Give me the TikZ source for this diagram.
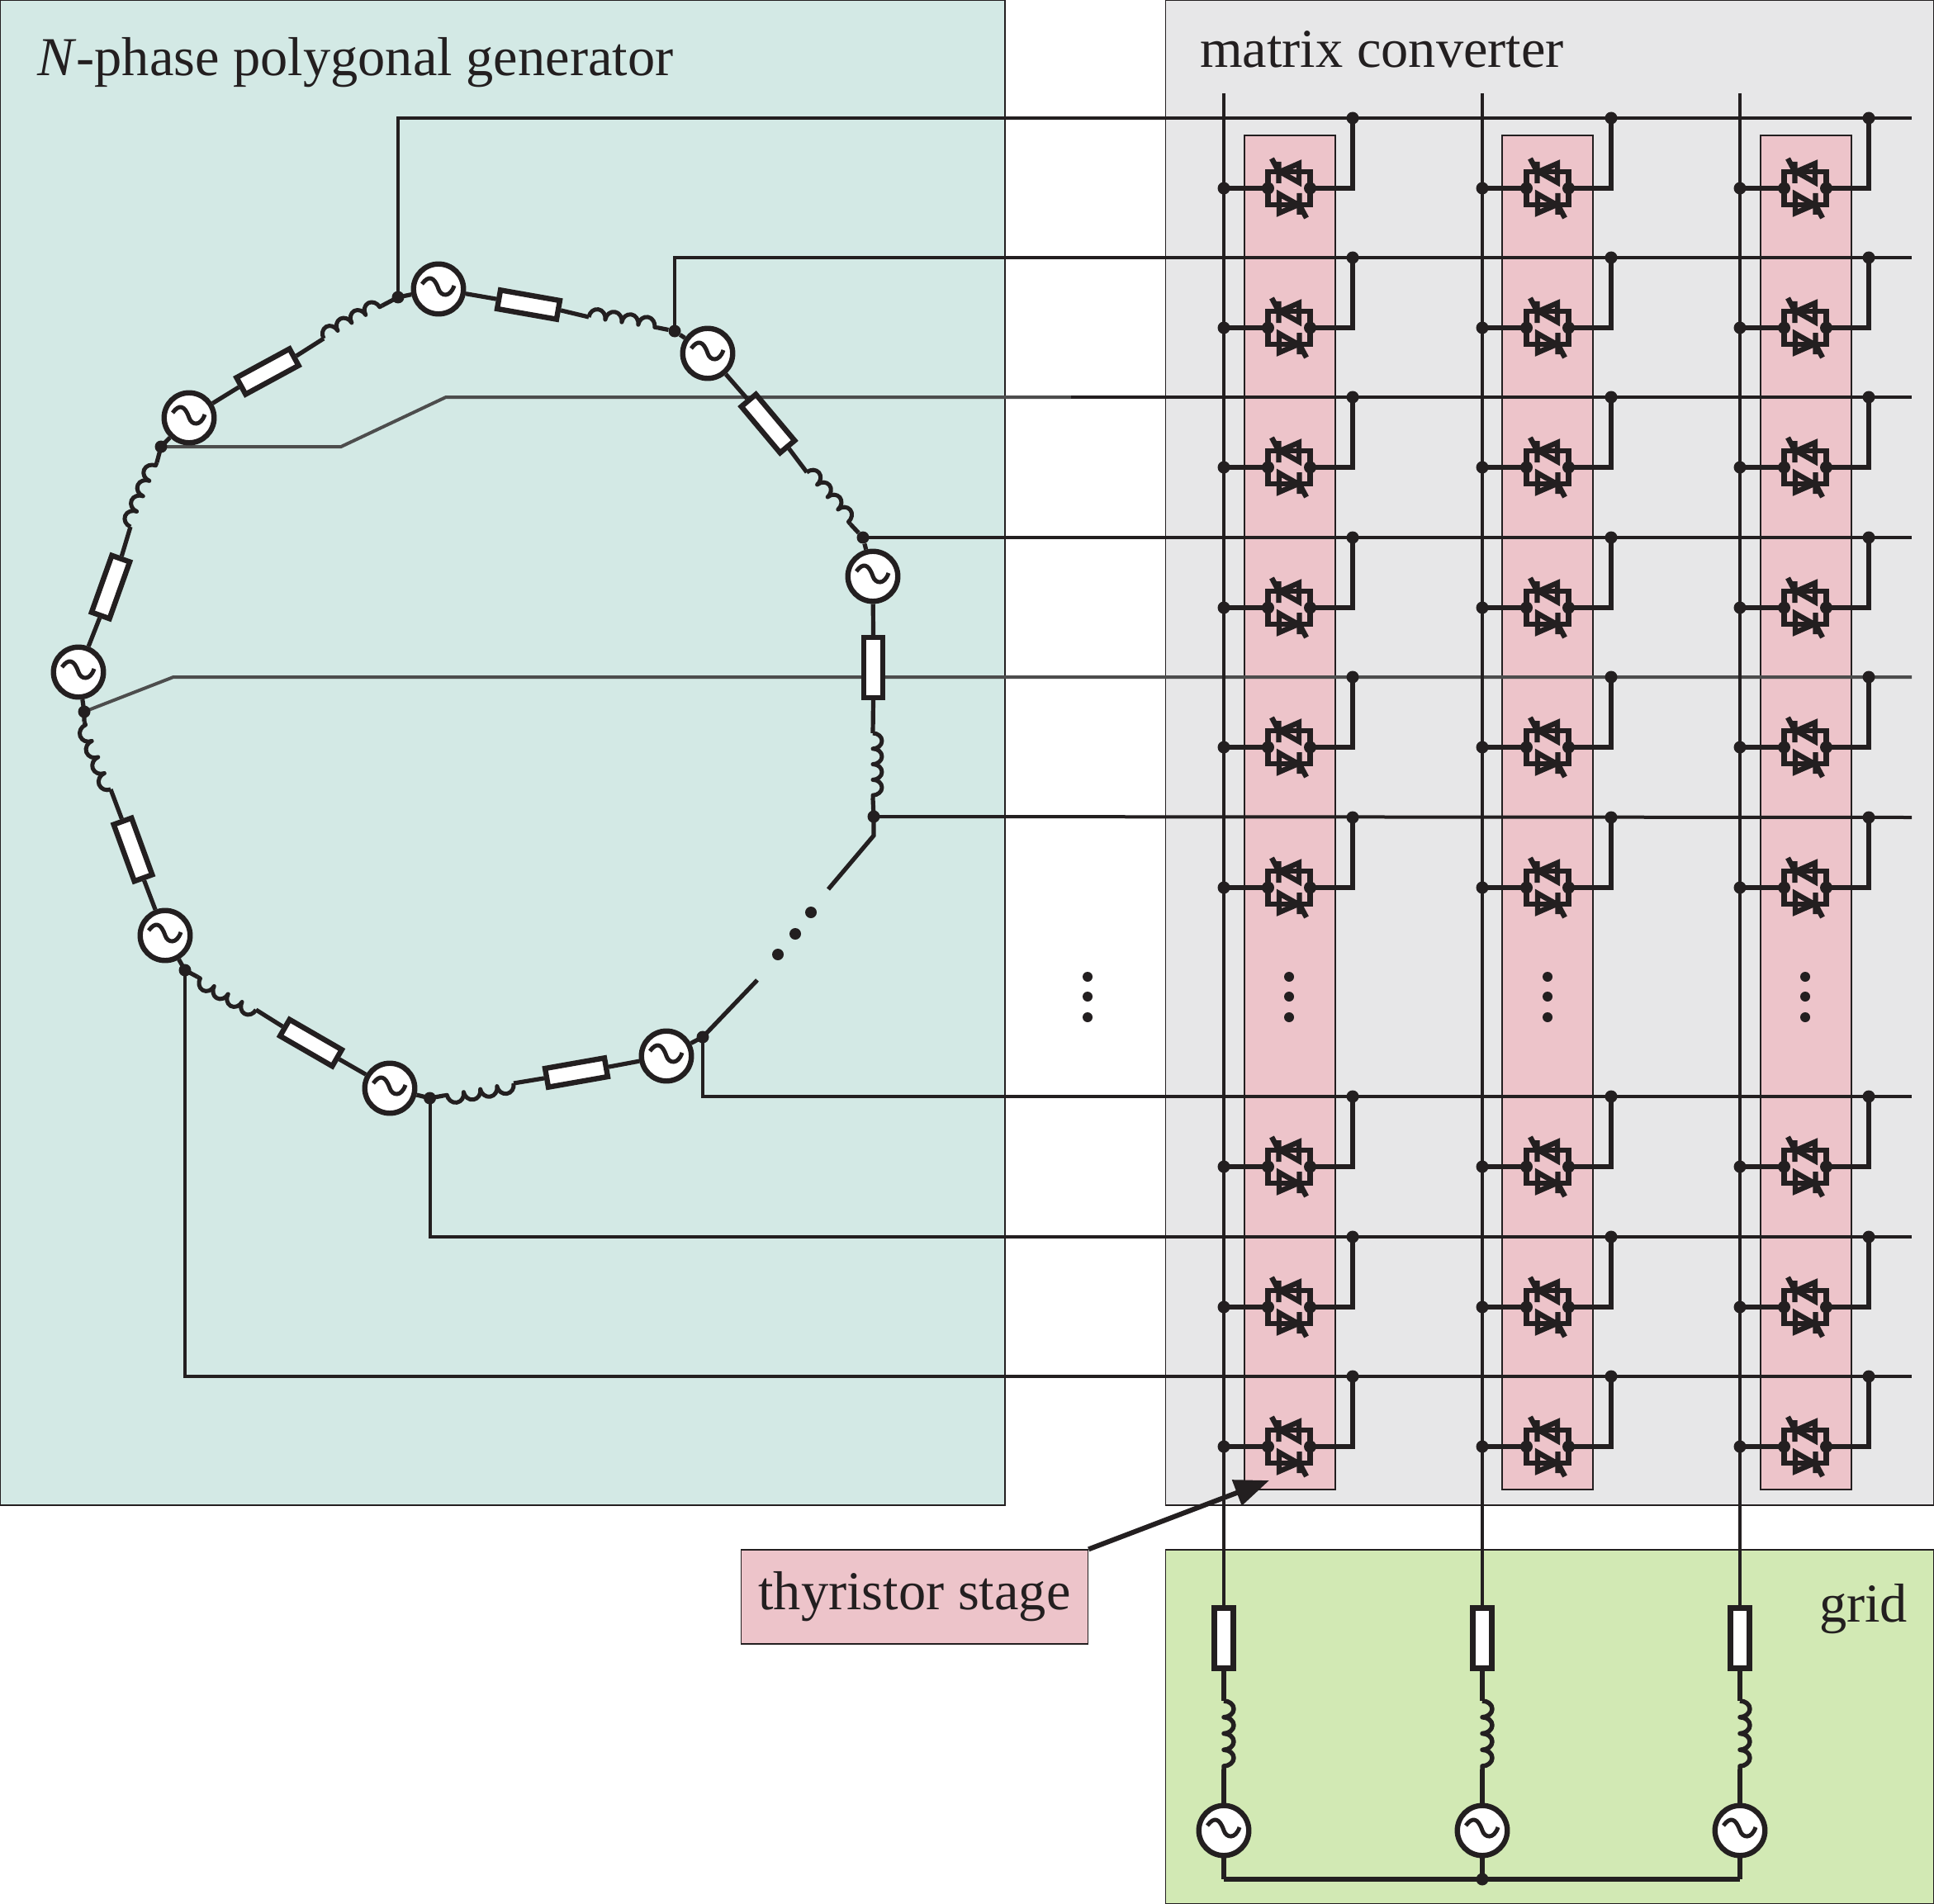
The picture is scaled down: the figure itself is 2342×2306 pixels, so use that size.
\documentclass[tikz,border=0pt]{standalone}
\usepackage{fontspec}
\setmainfont{Liberation Serif}
\usetikzlibrary{arrows.meta,decorations.pathmorphing}
\pgfdeclarelayer{back}
\pgfsetlayers{back,main}
\definecolor{ink}{HTML}{231F20}
\definecolor{grayline}{HTML}{4D4D4D}
\definecolor{genfill}{HTML}{D3E9E5}
\definecolor{convfill}{HTML}{E7E7E8}
\definecolor{stagefill}{HTML}{EDC4CA}
\definecolor{gridfill}{HTML}{D2E9B4}
\tikzset{
  x=1pt,y=-1pt,
  panel/.style={draw=ink,line width=1.3pt},
  wire/.style={draw=ink,line width=5.2pt,line join=miter},
  gwire/.style={draw=ink,line width=6.4pt,line join=miter},
  feeder/.style={draw=ink,line width=4pt,line join=miter},
  gfeeder/.style={draw=grayline,line width=4pt,line join=miter},
  coilpath/.style={draw=ink,line width=5pt,line join=round,decorate,
    decoration={bumps,segment length=#1,amplitude=11pt}},
  gcoil/.style={draw=ink,line width=5.5pt,line join=round,decorate,
    decoration={bumps,segment length=#1,amplitude=12pt}},
  jdot/.style={circle,fill=ink,inner sep=0pt,minimum size=15pt},
  edot/.style={circle,fill=ink,inner sep=0pt,minimum size=12pt},
  ringdot/.style={circle,fill=ink,inner sep=0pt,minimum size=15pt},
  res/.style={rectangle,draw=ink,fill=white,line width=6.4pt,inner sep=0pt,
    minimum width=73pt,minimum height=23pt,rotate=#1},
  src/.style={circle,draw=ink,fill=white,line width=6.4pt,inner sep=0pt,minimum size=60.5pt,
    path picture={\draw[ink,line width=5pt,shift={(path picture bounding box.center)}]
      (-20,-6) .. controls (-12,-17) and (-5,-15) .. (0,0)
      .. controls (3,9) and (14,11) .. (19,-4);}},
  lab/.style={anchor=base west,text=ink,font=\fontsize{66.4pt}{70pt}\selectfont,inner sep=0pt},
  thyristor/.pic={
    \coordinate (-L) at (-25.5,0);
    \coordinate (-R) at (25.5,0);
    \node[jdot] (-LD) at (-25.5,0) {};
    \node[jdot] (-RD) at (25.5,0) {};
    \draw[ink,line width=6.4pt,line join=miter]
      (-25.5,0) -- (-25.5,-20) -- (25.5,-20) -- (25.5,0)
      (-25.5,0) -- (-25.5,20) -- (25.5,20) -- (25.5,0);
    \draw[ink,line width=6.4pt,line join=miter]
      (12,-30) -- (12,-7) -- (-11,-20) -- cycle
      (-12.5,-32) -- (-12.5,-6)
      (-12.5,-20) -- (-21,-36);
    \draw[ink,line width=6.4pt,line join=miter]
      (-12,30) -- (-12,7) -- (11,20) -- cycle
      (12.5,32) -- (12.5,6)
      (12.5,20) -- (21,36);
  }
}
\begin{document}
\begin{tikzpicture}
\useasboundingbox (0,0) rectangle (2342,2306);

% ---- generator sources
\node[src] (S1) at (531,350) {};
\node[src] (S2) at (857,428) {};
\node[src] (S3) at (1057,698) {};
\node[src] (S4) at (229,506) {};
\node[src] (S5) at (95,814) {};
\node[src] (S6) at (200,1133) {};
\node[src] (S7) at (472,1318) {};
\node[src] (S8) at (807,1279) {};
% ---- generator resistors
\node[res=-10] (Ra) at (640,369) {};
\node[res=-50] (Rb) at (930,513) {};
\node[res=-90] (Rc) at (1057.5,808.5) {};
\node[res=28.5] (Rd) at (324,450) {};
\node[res=70.4] (Re) at (134,711) {};
\node[res=-70] (Rf) at (161,1029) {};
\node[res=-30] (Rg) at (376.5,1263) {};
\node[res=10] (Rh) at (698,1299) {};
% ---- junctions
\node[ringdot] (D1) at (482,360) {};
\node[ringdot] (D2) at (817,401) {};
\node[ringdot] (D3) at (1045,651) {};
\node[ringdot] (D4) at (195,541) {};
\node[ringdot] (D5) at (102,862) {};
\node[ringdot] (D6) at (224,1175) {};
\node[ringdot] (D7) at (520.5,1330) {};
\node[ringdot] (D8) at (851,1256) {};
\node[ringdot] (D9) at (1058,989) {};
% ---- inductor ends
\coordinate (Ia1) at (392,410); \coordinate (Ia2) at (463,370);
\coordinate (Ib1) at (713,384); \coordinate (Ib2) at (797,397);
\coordinate (Ic1) at (977,572); \coordinate (Ic2) at (1030,635);
\coordinate (Id1) at (1057,888); \coordinate (Id2) at (1057,967);
\coordinate (Ie1) at (158,638); \coordinate (Ie2) at (190,560);
\coordinate (If1) at (134,956); \coordinate (If2) at (102,874);
\coordinate (Ig1) at (310,1223); \coordinate (Ig2) at (239,1183);
\coordinate (Ih1) at (622,1312); \coordinate (Ih2) at (537,1327);
% ---- open ring ends
\coordinate (K1) at (1058,1012);
\coordinate (K2) at (1003,1077);
\coordinate (K3) at (917,1187);
\node[edot,minimum size=14pt] (G1) at (982,1105) {};
\node[edot,minimum size=14pt] (G2) at (963,1131) {};
\node[edot,minimum size=14pt] (G3) at (942,1156) {};
% ---- grid elements
\foreach \k/\gx in {1/1482,2/1795,3/2107}{
  \node[res=-90] (GR\k) at (\gx,1984) {};
  \node[src] (GS\k) at (\gx,2217) {};
  \coordinate (GI\k a) at (\gx,2060);
  \coordinate (GI\k b) at (\gx,2143);
  \coordinate (GB\k) at (\gx,113);
  \coordinate (GN\k) at (\gx,2276);
}
\node[jdot] (GJ) at (1795,2276) {};
% ---- feeder ends
\foreach \yl in {143,312,481,651,820,990,1328,1498,1667}{
  \coordinate (E\yl) at (2315,\yl);
}
\coordinate (Fa) at (540,481);
\coordinate (Fb) at (413,541);
\coordinate (Fc) at (210,820);
\coordinate (Fd) at (1297,481);
% ---- label box and arrow tip
\node[panel,fill=stagefill,rectangle,minimum width=420pt,minimum height=114pt,inner sep=0pt,
      text=ink,font=\fontsize{66.4pt}{70pt}\selectfont] (TS) at (1107.5,1934) {thyristor stage};
\coordinate (Tip) at (1537,1793);

\begin{pgfonlayer}{back}
  \draw[panel,fill=genfill] (0,0) rectangle (1217,1823);
  \draw[panel,fill=convfill] (1411.5,0) rectangle (2342,1823);
  \draw[panel,fill=gridfill] (1411.5,1877) rectangle (2342,2306);
  \foreach \px in {1507,1819,2132}{
    \draw[panel,fill=stagefill] (\px,164) rectangle ({\px+110},1804);
  }
  % feeders
  \draw[feeder] (D1.center) |- (E143);
  \draw[feeder] (D2.center) |- (E312);
  \draw[gfeeder] (D4.center) -- (Fb) -- (Fa) -- (Fd);
  \draw[feeder] (Fd) -- (E481);
  \draw[feeder] (D3.center) -- (E651);
  \draw[gfeeder] (D5.center) -- (Fc) -- (E820);
  \draw[feeder] (D9.center) -- (E990);
  \draw[feeder] (D8.center) |- (E1328);
  \draw[feeder] (D7.center) |- (E1498);
  \draw[feeder] (D6.center) |- (E1667);
  % buses
  \foreach \k in {1,2,3}{
    \draw[feeder] (GB\k) -- (GR\k.west);
  }
\end{pgfonlayer}

% ---- thyristor matrix
\foreach \c/\dx in {0/0,1/313,2/625}{
  \foreach \yl in {143,312,481,651,820,990,1328,1498,1667}{
    \node[jdot] (T\c R\yl) at ({1638+\dx},\yl) {};
    \node[jdot] (B\c R\yl) at ({1482+\dx},{\yl+85}) {};
    \pic (H\c R\yl) at ({1561+\dx},{\yl+85}) {thyristor};
    \draw[wire] (B\c R\yl.center) -- (H\c R\yl-L);
    \draw[gwire] (H\c R\yl-R) -| (T\c R\yl.center);
  }
  \node[edot] (V\c a) at ({1561+\dx},1183) {};
  \node[edot] (V\c b) at ({1561+\dx},1207) {};
  \node[edot] (V\c c) at ({1561+\dx},1232) {};
}
\node[edot] (Va) at (1317,1183) {};
\node[edot] (Vb) at (1317,1207) {};
\node[edot] (Vc) at (1317,1232) {};

% ---- polygon ring
\draw[wire] (S1) -- (Ra.west);
\draw[wire] (Ra.east) -- (Ib1);
\draw[coilpath=40.4] (Ib1) -- (Ib2);
\draw[wire] (Ib2) -- (D2) -- (S2);
\draw[wire] (S2) -- (Rb.west);
\draw[wire] (Rb.east) -- (Ic1);
\draw[coilpath=39.2] (Ic1) -- (Ic2);
\draw[wire] (Ic2) -- (D3) -- (S3);
\draw[wire] (S3) -- (Rc.west);
\draw[wire] (Rc.east) -- (Id1);
\draw[coilpath=37.6] (Id1) -- (Id2);
\draw[wire] (Id2) -- (D9.center) -- (K1) -- (K2);
\draw[wire] (K3) -- (D8.center) -- (S8);
\draw[wire] (S8) -- (Rh.east);
\draw[wire] (Rh.west) -- (Ih1);
\draw[coilpath=41] (Ih1) -- (Ih2);
\draw[wire] (Ih2) -- (D7.center) -- (S7);
\draw[wire] (S7) -- (Rg.east);
\draw[wire] (Rg.west) -- (Ig1);
\draw[coilpath=38.8] (Ig1) -- (Ig2);
\draw[wire] (Ig2) -- (D6.center) -- (S6);
\draw[wire] (S6) -- (Rf.east);
\draw[wire] (Rf.west) -- (If1);
\draw[coilpath=41.9] (If1) -- (If2);
\draw[wire] (If2) -- (D5.center) -- (S5);
\draw[wire] (S5) -- (Re.west);
\draw[wire] (Re.east) -- (Ie1);
\draw[coilpath=40.1] (Ie1) -- (Ie2);
\draw[wire] (Ie2) -- (D4.center) -- (S4);
\draw[wire] (S4) -- (Rd.west);
\draw[wire] (Rd.east) -- (Ia1);
\draw[coilpath=38.9] (Ia1) -- (Ia2);
\draw[wire] (Ia2) -- (D1.center) -- (S1);

% ---- grid branches
\foreach \k in {1,2,3}{
  \draw[gwire] (GR\k.east) -- (GI\k a);
  \draw[gcoil=39.5] (GI\k a) -- (GI\k b);
  \draw[gwire] (GI\k b) -- (GS\k);
  \draw[gwire] (GS\k) -- (GN\k);
}
\draw[gwire] (GN1) -- (GN3);

% ---- arrow and labels
\draw[ink,line width=6pt,-{Triangle[length=42pt,width=32pt]}] (TS.north east) -- (Tip);
\node[lab] (LG) at (45,92) {\textit{N}-phase polygonal generator};
\node[lab] (LM) at (1453,82) {matrix converter};
\node[lab] (LR) at (2203,1964) {grid};
\end{tikzpicture}
\end{document}
